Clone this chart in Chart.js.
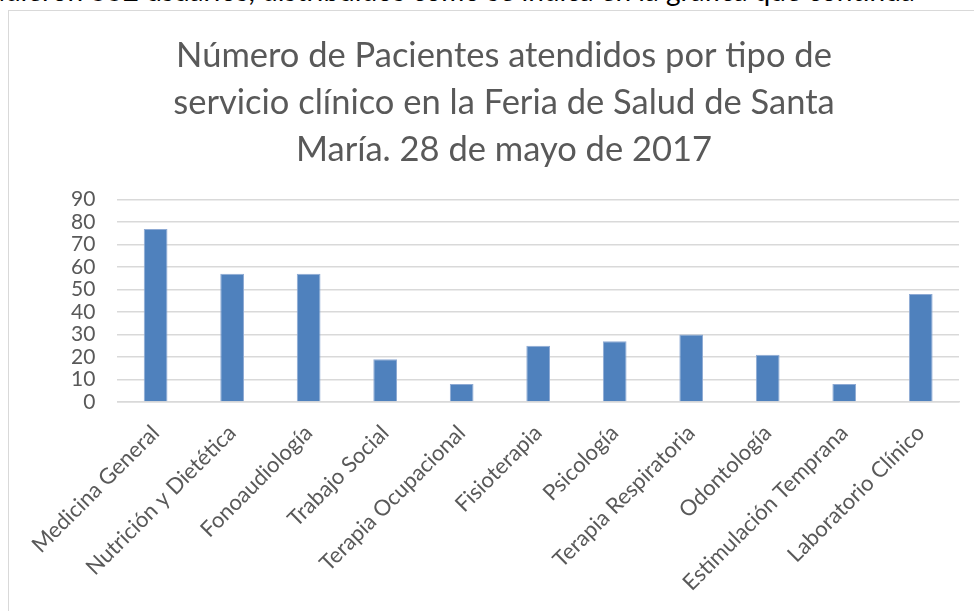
<!DOCTYPE html>
<html>
<head>
<meta charset="utf-8">
<script src="https://cdn.jsdelivr.net/npm/chart.js@4"></script>
<style>
  html, body { margin: 0; padding: 0; background: #fff; overflow: hidden; width: 974px; height: 611px; }
  #above { position: absolute; left: -38px; top: -27px; white-space: nowrap; font: 28px Lato, sans-serif; color: #000; }
  #frame { position: absolute; left: 8px; top: 10px; width: 1000px; height: 700px; border: 1px solid #d9d9d9; background: #fff; }
  #wrap { position: absolute; left: 0; top: 0; width: 966px; height: 609px; }
</style>
</head>
<body>
<div id="above">acudieron 332 usuarios, distribuidos como se indica en la gráfica que continúa</div>
<div id="frame">
  <div id="wrap"><canvas id="chart"></canvas></div>
</div>
<script>
// Servicios clínicos y pacientes atendidos
const servicios = [
  'Medicina General', 'Nutrición y Dietética', 'Fonoaudiología', 'Trabajo Social',
  'Terapia Ocupacional', 'Fisioterapia', 'Psicología', 'Terapia Respiratoria',
  'Odontología', 'Estimulación Temprana', 'Laboratorio Clínico'
];
const pacientes = [77, 57, 57, 19, 8, 25, 27, 30, 21, 8, 48];
const tituloLineas = [
  'Número de Pacientes atendidos por tipo de',
  'servicio clínico en la Feria de Salud de Santa',
  'María. 28 de mayo de 2017'
];
const ejeY = { min: 0, max: 90, paso: 10 };

const gris = '#595959';
const fuente = 'Lato, sans-serif';

new Chart(document.getElementById('chart'), {
  type: 'bar',
  data: {
    labels: servicios,
    datasets: [{
      data: pacientes,
      backgroundColor: '#4f81bd',
      borderColor: '#8eaad4',
      borderWidth: 1,
      barPercentage: 0.31,
      categoryPercentage: 1
    }]
  },
  options: {
    responsive: true,
    maintainAspectRatio: false,
    animation: false,
    layout: { padding: { left: 40, right: 16, top: 0, bottom: 6 } },
    plugins: {
      legend: { display: false },
      tooltip: { enabled: false },
      title: {
        display: true,
        text: tituloLineas,
        color: gris,
        font: { family: fuente, size: 34.5, weight: 'normal', lineHeight: 1.35 },
        padding: { top: 22, bottom: 27 }
      }
    },
    scales: {
      x: {
        grid: { display: false, drawTicks: false },
        border: { display: true, color: '#d9d9d9', width: 1.5 },
        ticks: {
          color: gris,
          font: { family: fuente, size: 22 },
          minRotation: 45,
          maxRotation: 45,
          padding: 18,
          autoSkip: false
        }
      },
      y: {
        min: ejeY.min,
        max: ejeY.max,
        grid: { color: '#d9d9d9', lineWidth: 1.5, drawTicks: false },
        border: { display: false },
        ticks: {
          stepSize: ejeY.paso,
          autoSkip: false,
          color: gris,
          font: { family: fuente, size: 21 },
          padding: 22
        }
      }
    }
  }
});
</script>
</body>
</html>
